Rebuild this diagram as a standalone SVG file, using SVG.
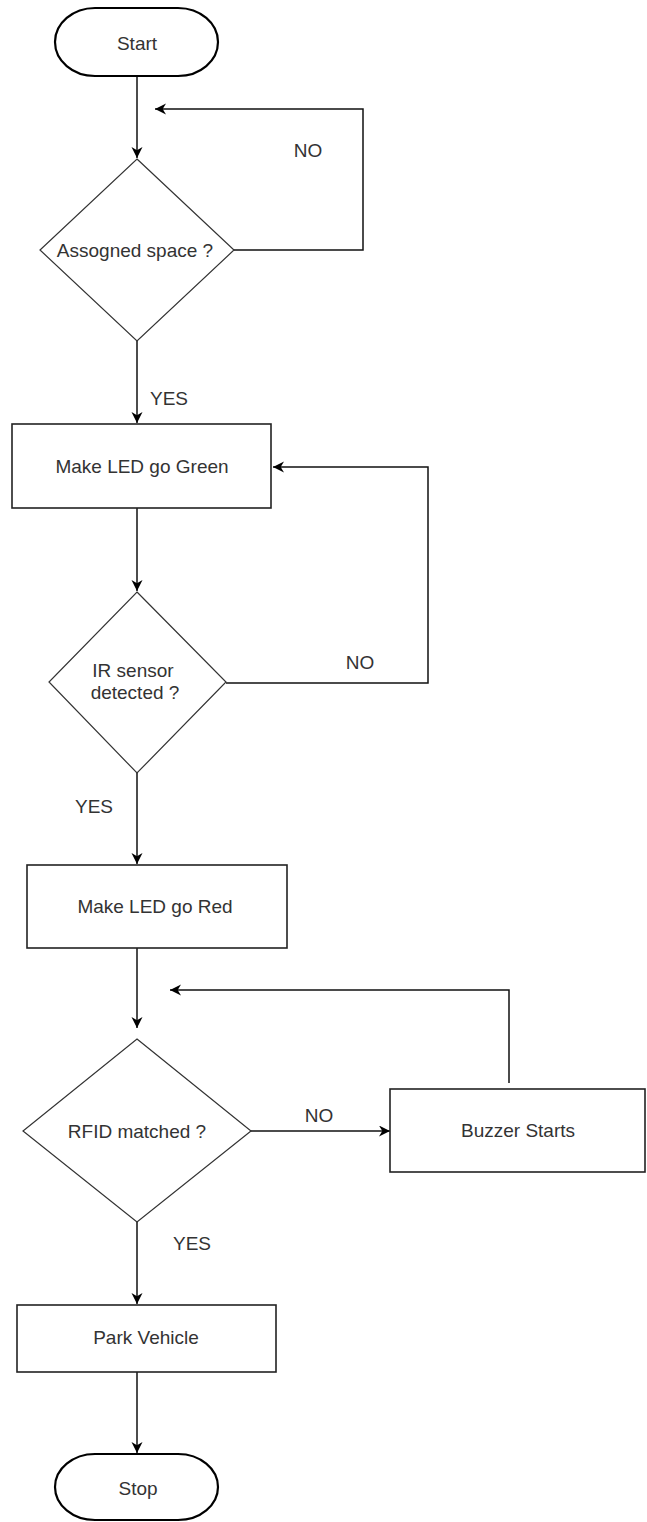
<svg xmlns="http://www.w3.org/2000/svg" width="647" height="1522" viewBox="0 0 647 1522">
<defs>
<marker id="arr" markerUnits="userSpaceOnUse" markerWidth="14" markerHeight="14" refX="11" refY="5.5" orient="auto">
<path d="M0,0 L11,5.5 L0,11 L3.3,5.5 z" fill="#000"/>
</marker>
<style>
.term{fill:#fff;stroke:#000;stroke-width:2.2}
.box{fill:#fff;stroke:#222;stroke-width:1.6}
.dia{fill:#fff;stroke:#333;stroke-width:1.2}
.t{font-family:"Liberation Sans",Arial,sans-serif;font-size:19px;fill:#333;text-anchor:middle}
.c{fill:none;stroke:#111;stroke-width:1.5;marker-end:url(#arr)}
</style>
</defs>
<rect width="647" height="1522" fill="#fff"/>
<g id="connectors">
<path class="c" d="M137,76 L137,158"/>
<path class="c" d="M234,250 L363,250 L363,109 L155,109"/>
<path class="c" d="M137,341 L137,423"/>
<path class="c" d="M137,508 L137,591"/>
<path class="c" d="M226,683 L428,683 L428,467 L273,467"/>
<path class="c" d="M137,773 L137,864"/>
<path class="c" d="M137,948 L137,1028"/>
<path class="c" d="M251,1131 L390,1131"/>
<path class="c" d="M509,1083 L509,990 L170,990"/>
<path class="c" d="M137,1222 L137,1304"/>
<path class="c" d="M137,1372 L137,1453"/>
<text class="t" x="308" y="157">NO</text>
<text class="t" x="169" y="405">YES</text>
<text class="t" x="360" y="669">NO</text>
<text class="t" x="94" y="813">YES</text>
<text class="t" x="319" y="1122">NO</text>
<text class="t" x="192" y="1250">YES</text>
</g>
<g id="start">
<rect class="term" x="55" y="8" width="163" height="68" rx="40" ry="34"/>
<text class="t" x="137" y="50">Start</text>
</g>
<g id="assigned">
<polygon class="dia" points="137,159 234,250 137,341 40,250"/>
<text class="t" x="135" y="257">Assogned space ?</text>
</g>
<g id="green">
<rect class="box" x="12" y="424" width="259" height="84"/>
<text class="t" x="142" y="473">Make LED go Green</text>
</g>
<g id="ir">
<polygon class="dia" points="137,592 226,682 137,773 49,682"/>
<text class="t" x="133" y="677">IR sensor</text>
<text class="t" x="135" y="699">detected ?</text>
</g>
<g id="red">
<rect class="box" x="27" y="865" width="260" height="83"/>
<text class="t" x="155" y="913">Make LED go Red</text>
</g>
<g id="rfid">
<polygon class="dia" points="137,1039 251,1131 137,1222 23,1131"/>
<text class="t" x="137" y="1138">RFID matched ?</text>
</g>
<g id="buzzer">
<rect class="box" x="390" y="1089" width="255" height="83"/>
<text class="t" x="518" y="1137">Buzzer Starts</text>
</g>
<g id="park">
<rect class="box" x="17" y="1305" width="259" height="67"/>
<text class="t" x="146" y="1344">Park Vehicle</text>
</g>
<g id="stop">
<rect class="term" x="55" y="1454" width="163" height="66" rx="40" ry="33"/>
<text class="t" x="138" y="1495">Stop</text>
</g>
</svg>
